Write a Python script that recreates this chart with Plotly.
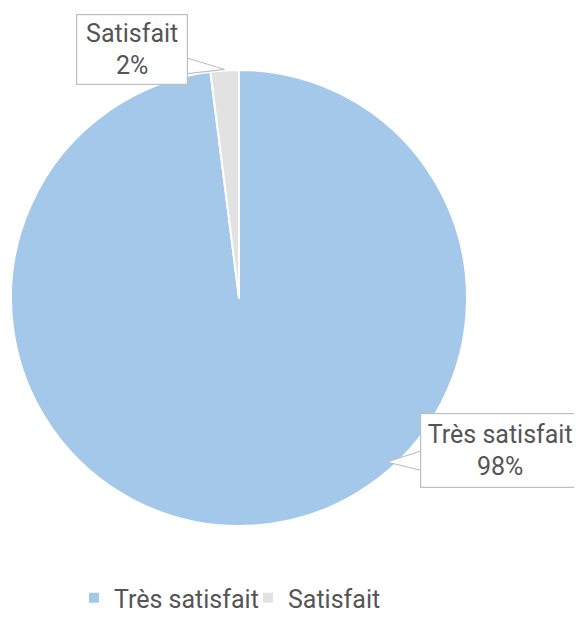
import math
import plotly.graph_objects as go

labels = ["Très satisfait", "Satisfait"]
values = [98, 2]
colors = ["#A4C8EA", "#E2E2E2"]

# page offset (browser body margin) compensation
OFF = 8
W, H = 582 - OFF, 635 - OFF
cx, cy, R = 239, 298, 228

def px(x):
    return (x - OFF) / W

def py(y):
    return 1 - (y - OFF) / H

total = sum(values)
pcts = [round(v * 100 / total) for v in values]

fig = go.Figure()
fig.add_trace(go.Pie(
    labels=labels,
    values=values,
    sort=False,
    direction="clockwise",
    rotation=0,
    marker=dict(colors=colors, line=dict(color="white", width=2)),
    textinfo="none",
    hoverinfo="label+percent",
    domain=dict(x=[px(cx - R), px(cx + R)], y=[py(cy + R), py(cy - R)]),
))

start = 0.0
mids = []
for v in values:
    frac = v / total
    mids.append((start + frac / 2) * 360)
    start += frac

a = math.radians(mids[1])
tip1 = (cx + (R + 1) * math.sin(a), cy - (R + 1) * math.cos(a))
box1 = dict(x0=76, x1=188, y0=14, y1=85)
tip2 = (387, 462)
box2 = dict(x0=420, x1=580, y0=413, y1=488)

line_col = "#BFBFBF"
shapes = [
    dict(type="path", xref="paper", yref="paper",
         path=f"M {px(box1['x1']-4)} {py(57)} L {px(tip1[0])} {py(tip1[1])} L {px(box1['x1']-4)} {py(74)} Z",
         fillcolor="white", line=dict(color=line_col, width=1.2)),
    dict(type="path", xref="paper", yref="paper",
         path=f"M {px(box2['x0']+4)} {py(450)} L {px(tip2[0])} {py(tip2[1])} L {px(box2['x0']+4)} {py(471)} Z",
         fillcolor="white", line=dict(color=line_col, width=1.2)),
]

annotations = []
for lab, p, b in [(labels[1], pcts[1], box1), (labels[0], pcts[0], box2)]:
    annotations.append(dict(
        xref="paper", yref="paper",
        x=px((b["x0"] + b["x1"]) / 2), y=py((b["y0"] + b["y1"]) / 2),
        xanchor="center", yanchor="middle",
        text=f"{lab}<br>{p}%", showarrow=False,
        font=dict(family="Roboto", size=25, color="#555555"),
        align="center",
        width=b["x1"] - b["x0"] - 4, height=b["y1"] - b["y0"] - 4,
        bgcolor="white", bordercolor=line_col, borderwidth=1.2, borderpad=1,
    ))

fig.update_layout(
    width=W, height=H,
    margin=dict(l=0, r=0, t=0, b=0),
    paper_bgcolor="white",
    plot_bgcolor="white",
    shapes=shapes,
    annotations=annotations,
    showlegend=True,
    legend=dict(orientation="h", x=px(248), xanchor="center", y=py(598), yanchor="middle",
                font=dict(family="Roboto", size=25, color="#555555"),
                itemsizing="constant", itemwidth=30,
                entrywidth=129, entrywidthmode="pixels"),
    font=dict(family="Roboto"),
)

fig.write_html("out.html")
